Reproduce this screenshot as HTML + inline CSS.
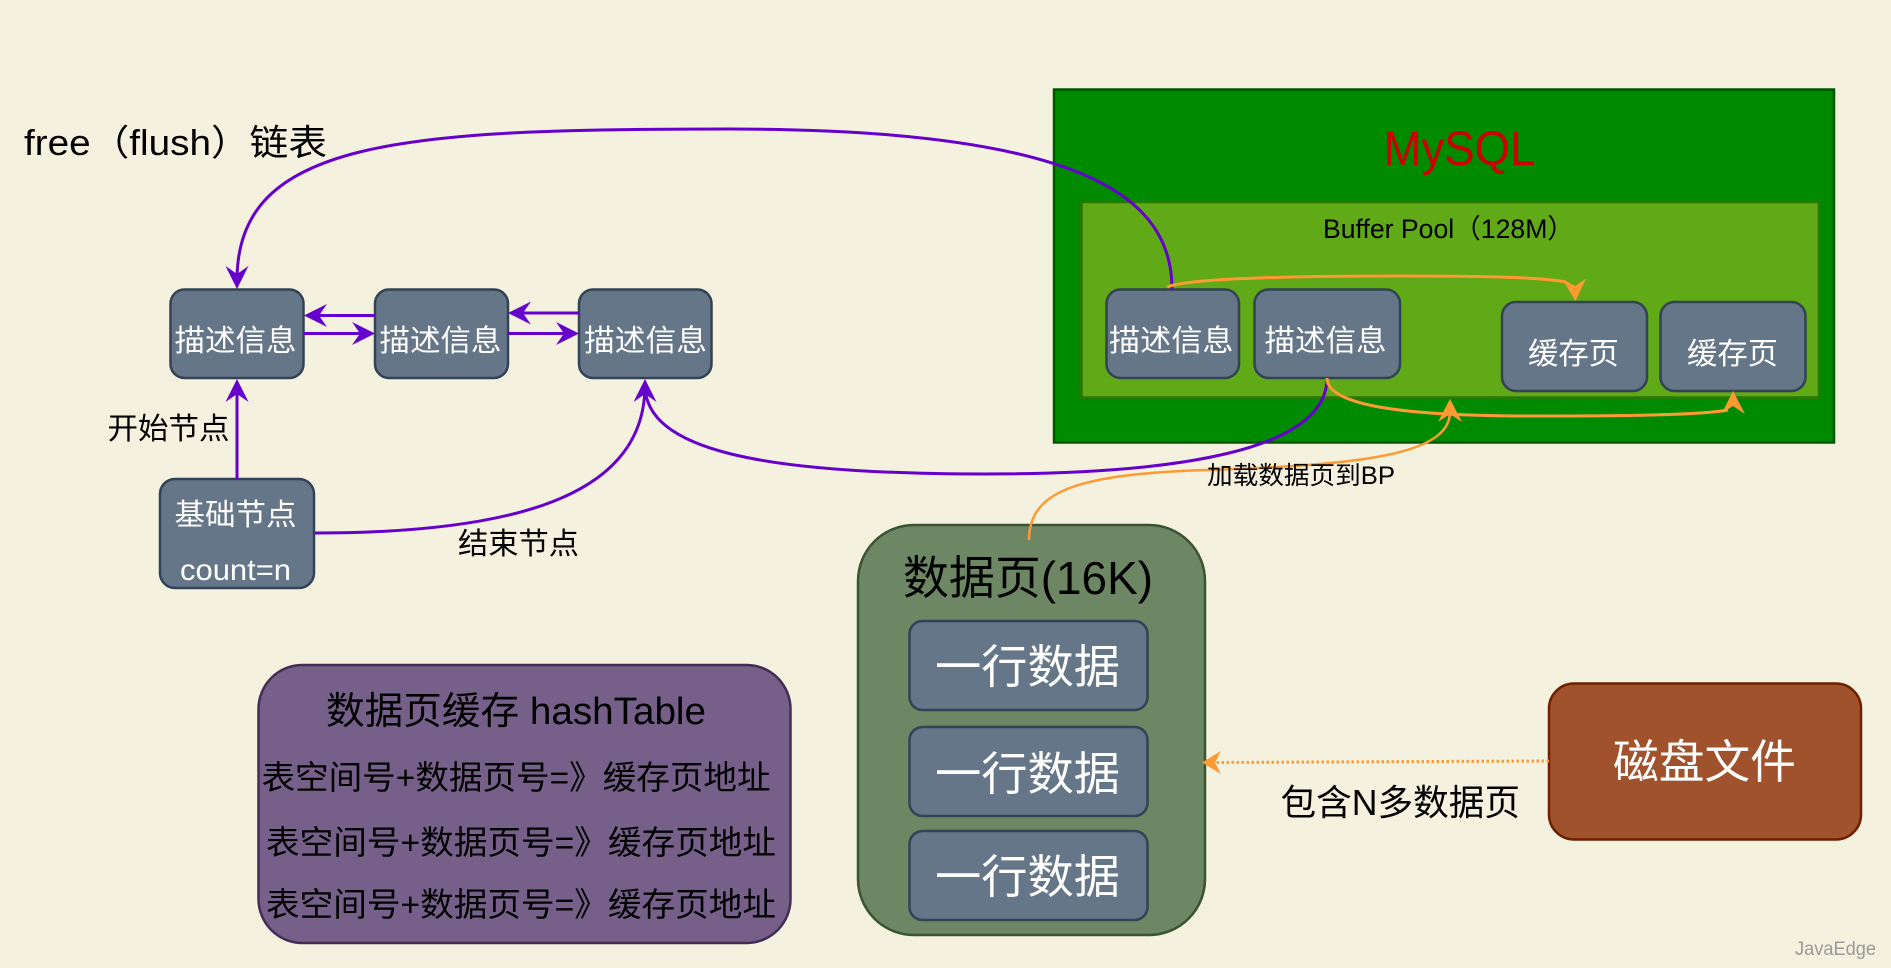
<!DOCTYPE html>
<html>
<head>
<meta charset="utf-8">
<style>
html,body{margin:0;padding:0;background:#f4f1df;width:1891px;height:968px;overflow:hidden}
svg{display:block}
text{font-family:"Liberation Sans","Noto Sans CJK SC",sans-serif}
.b{fill:#647687;stroke:#314354;stroke-width:2.5}
.w{fill:#fff}
.k{fill:#000}
.p{fill:none;stroke:#6600cc;stroke-width:3}
.o{fill:none;stroke:#ff9a33;stroke-width:3}
</style>
</head>
<body>
<svg width="1891" height="968" viewBox="0 0 1891 968" xmlns="http://www.w3.org/2000/svg">
<rect width="1891" height="968" fill="#f4f1df"/>

<!-- MySQL -->
<rect x="1054" y="89.500" width="780" height="353" fill="#008a00" stroke="#005700" stroke-width="2.500"/>
<rect x="1081.500" y="202" width="737.500" height="195.500" fill="#60a917" stroke="#2d7600" stroke-width="2.500"/>
<text x="1383.500" y="165" font-size="48" fill="#cc0000" textLength="152" lengthAdjust="spacingAndGlyphs">MySQL</text>
<text x="1323" y="238" font-size="27" class="k" textLength="251" lengthAdjust="spacingAndGlyphs">Buffer Pool（128M）</text>

<!-- Nodes -->
<rect class="b" x="170.500" y="289.500" width="133" height="88.500" rx="14"/>
<rect class="b" x="375" y="289.500" width="133" height="88.500" rx="14"/>
<rect class="b" x="579" y="289.500" width="132.500" height="88.500" rx="14"/>
<rect class="b" x="160" y="479" width="154" height="109" rx="15"/>
<rect class="b" x="1106.500" y="289.500" width="132.500" height="88.500" rx="14"/>
<rect class="b" x="1254.500" y="289.500" width="145.500" height="88.500" rx="14"/>
<rect class="b" x="1502" y="302" width="145" height="89" rx="14"/>
<rect class="b" x="1660.500" y="302" width="145" height="89" rx="14"/>

<!-- Data page -->
<rect x="858" y="525" width="347" height="410" rx="56" fill="#6d8764" stroke="#3a5431" stroke-width="2.500"/>
<rect class="b" x="909.500" y="621" width="238" height="89" rx="13"/>
<rect class="b" x="909.500" y="727" width="238" height="89" rx="13"/>
<rect class="b" x="909.500" y="831" width="238" height="89" rx="13"/>

<!-- Hash table -->
<rect x="258.500" y="665" width="532" height="278" rx="44" fill="#76608a" stroke="#432d57" stroke-width="2.500"/>

<!-- Disk -->
<rect x="1549" y="683.500" width="312" height="156" rx="25" fill="#a0522d" stroke="#6d1f00" stroke-width="2.500"/>

<!-- Purple connectors -->
<path class="p" d="M1172,289 C1172,200 1090,129 730,129 C400,129 237,140 237,280"/>
<path class="p" d="M375,315.500 H318"/>
<path class="p" d="M304,333.500 H360"/>
<path class="p" d="M579,313 H522"/>
<path class="p" d="M508,333.500 H564"/>
<path class="p" d="M237,479 V393"/>
<path class="p" d="M315,533 C530,533 645,490 645,385"/>
<path class="p" d="M1327,378 C1327,450 1180,474 985,474 C760,474 645,450 645,385"/>
<g fill="#6600cc">
<polygon points="237,289 225.500,266 237,274 248.500,266"/>
<polygon points="304,315.500 327,304 319,315.500 327,327"/>
<polygon points="375,333.500 352,322 360,333.500 352,345"/>
<polygon points="508,313 531,301.500 523,313 531,324.500"/>
<polygon points="579,333.500 556,322 564,333.500 556,345"/>
<polygon points="237,379 225.500,402 237,394 248.500,402"/>
<polygon points="645,379 633.500,402 645,394 656.500,402"/>
</g>

<!-- Orange connectors -->
<path class="o" d="M1167,287 C1190,278 1300,276 1400,276 C1480,276 1540,277 1566,282"/>
<path class="o" d="M1327,378 C1327,405 1400,416 1530,416 C1630,416 1700,415 1728,410"/>
<path class="o" style="stroke-width:2.500" d="M1029,540 C1029,490 1080,474 1207,470 C1360,465 1450,455 1450,412"/>
<path class="o" stroke-width="2.500" stroke-dasharray="2.500 2.500" d="M1549,761 L1214,762.500"/>
<g fill="#ff9a33">
<polygon points="1575.500,301 1562.500,279.500 1575.500,286 1586,278.500"/>
<polygon points="1733,391 1722,413 1733,406 1745,414"/>
<polygon points="1450,399 1438,422 1450,414 1462,422"/>
<polygon points="1202,762.500 1221,751 1215,762.500 1221,774"/>
</g>

<!-- Text -->
<text x="24" y="155" font-size="36" class="k" textLength="303" lengthAdjust="spacingAndGlyphs">free（flush）链表</text>
<text x="174.500" y="351" font-size="30" class="w" textLength="122" lengthAdjust="spacingAndGlyphs">描述信息</text>
<text x="379.500" y="351" font-size="30" class="w" textLength="122" lengthAdjust="spacingAndGlyphs">描述信息</text>
<text x="584" y="351" font-size="30" class="w" textLength="123" lengthAdjust="spacingAndGlyphs">描述信息</text>
<text x="174.500" y="525" font-size="30" class="w" textLength="122" lengthAdjust="spacingAndGlyphs">基础节点</text>
<text x="180" y="580" font-size="30" class="w" textLength="111" lengthAdjust="spacingAndGlyphs">count=n</text>
<text x="107.500" y="439" font-size="30" class="k" textLength="122" lengthAdjust="spacingAndGlyphs">开始节点</text>
<text x="458" y="554" font-size="30" class="k" textLength="121" lengthAdjust="spacingAndGlyphs">结束节点</text>
<text x="1109" y="351" font-size="30" class="w" textLength="124.500" lengthAdjust="spacingAndGlyphs">描述信息</text>
<text x="1264.500" y="351" font-size="30" class="w" textLength="122" lengthAdjust="spacingAndGlyphs">描述信息</text>
<text x="1528" y="364" font-size="30" class="w" textLength="91" lengthAdjust="spacingAndGlyphs">缓存页</text>
<text x="1687" y="364" font-size="30" class="w" textLength="91" lengthAdjust="spacingAndGlyphs">缓存页</text>
<text x="1207" y="484" font-size="25" class="k" textLength="188" lengthAdjust="spacingAndGlyphs">加载数据页到BP</text>
<text x="903" y="594" font-size="46" class="k" textLength="250" lengthAdjust="spacingAndGlyphs">数据页(16K)</text>
<text x="935" y="683" font-size="46" class="w" textLength="185" lengthAdjust="spacingAndGlyphs">一行数据</text>
<text x="935" y="790" font-size="46" class="w" textLength="185" lengthAdjust="spacingAndGlyphs">一行数据</text>
<text x="935" y="893" font-size="46" class="w" textLength="185" lengthAdjust="spacingAndGlyphs">一行数据</text>
<text x="326" y="724" font-size="38" class="k" textLength="380" lengthAdjust="spacingAndGlyphs">数据页缓存 hashTable</text>
<text x="261.500" y="789" font-size="33" class="k" textLength="509" lengthAdjust="spacingAndGlyphs">表空间号+数据页号=》缓存页地址</text>
<text x="266" y="854" font-size="33" class="k" textLength="510" lengthAdjust="spacingAndGlyphs">表空间号+数据页号=》缓存页地址</text>
<text x="266" y="916" font-size="33" class="k" textLength="510" lengthAdjust="spacingAndGlyphs">表空间号+数据页号=》缓存页地址</text>
<text x="1613" y="778" font-size="46" class="w" textLength="183" lengthAdjust="spacingAndGlyphs">磁盘文件</text>
<text x="1280.500" y="815" font-size="36" class="k" textLength="239.500" lengthAdjust="spacingAndGlyphs">包含N多数据页</text>
<text x="1795" y="955" font-size="19" fill="#9a9a9a" textLength="81" lengthAdjust="spacingAndGlyphs">JavaEdge</text>
</svg>
</body>
</html>
